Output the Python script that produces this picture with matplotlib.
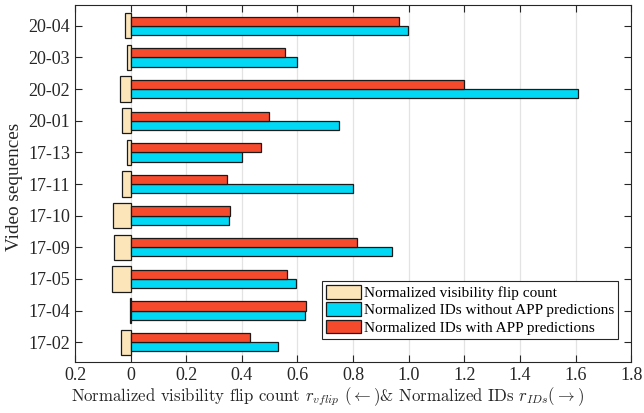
import numpy as np
import matplotlib.pyplot as plt

sequences = ['17-02', '17-04', '17-05', '17-09', '17-10', '17-11',
             '17-13', '20-01', '20-02', '20-03', '20-04']
# normalized visibility flip count (drawn to the left)
flip_count = [0.034, 0.001, 0.068, 0.060, 0.063, 0.030,
              0.014, 0.030, 0.039, 0.013, 0.020]
ids_without_app = [0.531, 0.627, 0.596, 0.940, 0.355, 0.800,
                   0.400, 0.749, 1.608, 0.600, 0.996]
ids_with_app = [0.431, 0.630, 0.563, 0.814, 0.359, 0.348,
                0.468, 0.498, 1.198, 0.556, 0.965]
xticks = [-0.2, 0, 0.2, 0.4, 0.6, 0.8, 1.0, 1.2, 1.4, 1.6, 1.8]
xtick_labels = ['0.2', '0', '0.2', '0.4', '0.6', '0.8', '1.0', '1.2', '1.4', '1.6', '1.8']

plt.rcParams['font.family'] = ['Liberation Serif', 'DejaVu Serif']
plt.rcParams['mathtext.fontset'] = 'cm'

c_flip = '#FCE5B9'
c_without = '#00D8F5'
c_with = '#F64A2C'
edge = '#1a1a1a'

fig = plt.figure(figsize=(6.44, 4.13), dpi=100)
ax = fig.add_axes([0.1165, 0.124, 0.8635, 0.864])

y = np.arange(1, len(sequences) + 1)
h = 0.29

ax.barh(y, -np.array(flip_count), height=0.8, color=c_flip, edgecolor=edge,
        linewidth=0.9, label='Normalized visibility flip count', zorder=3)
ax.barh(y - h / 2, ids_without_app, height=h, color=c_without, edgecolor=edge,
        linewidth=0.9, label='Normalized IDs without APP predictions', zorder=3)
ax.barh(y + h / 2, ids_with_app, height=h, color=c_with, edgecolor=edge,
        linewidth=0.9, label='Normalized IDs with APP predictions', zorder=3)

ax.set_xlim(-0.2, 1.8)
ax.set_ylim(0.38, 11.66)
ax.set_xticks(xticks)
ax.set_xticklabels(xtick_labels)
ax.set_yticks(y)
ax.set_yticklabels(sequences)
ax.tick_params(axis='both', labelsize=13, direction='in', top=True, right=True,
               length=5, width=0.8, colors='#262626', labelcolor='#262626')
ax.xaxis.grid(True, color='#e3e3e3', linewidth=0.9, zorder=0)
ax.set_axisbelow(True)
for s in ax.spines.values():
    s.set_color('#262626')
    s.set_linewidth(0.8)

ax.set_ylabel('Video sequences', fontsize=13.8, color='#262626')
ax.yaxis.set_label_coords(-0.0935, 0.49)
ax.set_xlabel(r'Normalized visibility flip count $r_{vflip}$ $(\leftarrow)$& Normalized IDs $r_{IDs}(\rightarrow)$',
              fontsize=12.1, color='#262626', labelpad=1, fontfamily='cmr10')
ax.xaxis.set_label_coords(0.454, -0.068)

leg = ax.legend(loc='lower right', bbox_to_anchor=(0.977, 0.065), fontsize=11,
                frameon=True, fancybox=False, framealpha=1, edgecolor='#262626',
                handlelength=2.3, handleheight=1.0, handletextpad=0.2,
                borderpad=0.25, labelspacing=0.15, borderaxespad=0)
leg.get_frame().set_linewidth(0.8)

fig.savefig('out.png', dpi=100)
